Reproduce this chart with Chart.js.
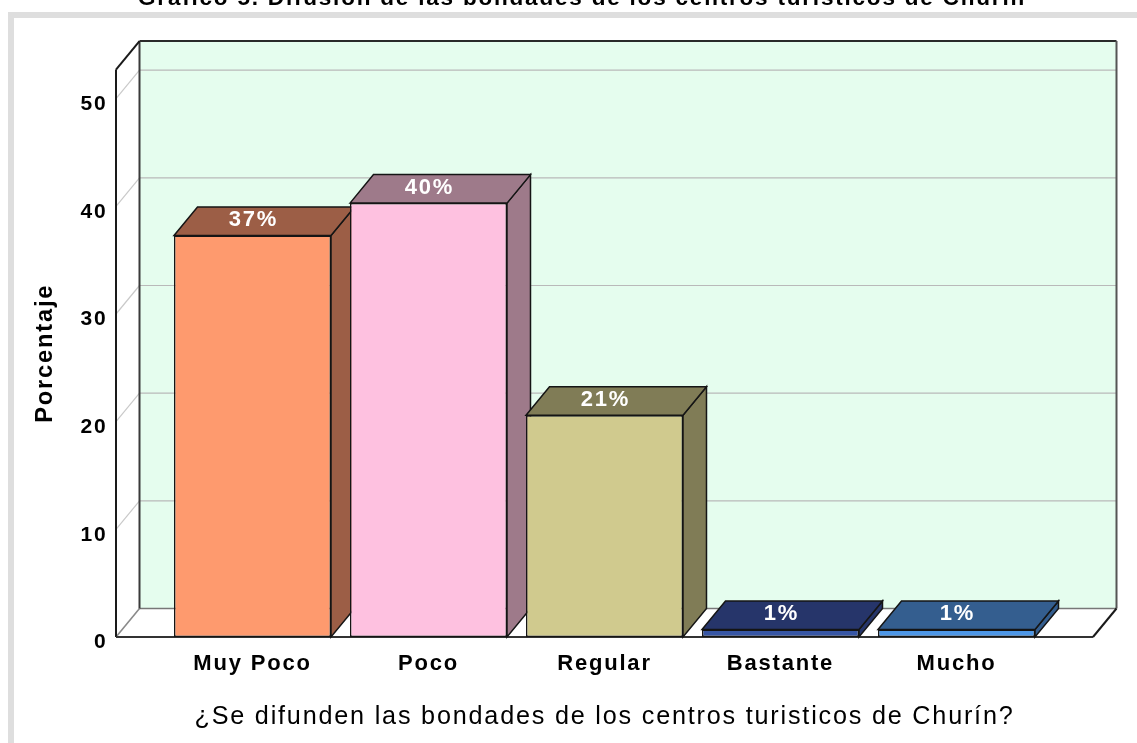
<!DOCTYPE html>
<html><head><meta charset="utf-8">
<script src="https://cdn.jsdelivr.net/npm/chart.js@4/dist/chart.umd.min.js"></script>
<style>html,body{margin:0;padding:0;background:#fff;overflow:hidden;}#wrap{width:1137px;height:743px;}</style>
</head><body><div id="wrap"><canvas id="c" width="1137" height="743"></canvas></div>
<script>
// ---- data ----
const categories = ['Muy Poco', 'Poco', 'Regular', 'Bastante', 'Mucho'];
const percentages = [37.3, 40.3, 20.6, 0.7, 0.7];
const yTickValues = [0, 10, 20, 30, 40, 50];
const frontColors = ['#fe9a6e', '#fec1e0', '#d0ca8e', '#3756a5', '#4d97e7'];
const shadeColors = ['#9c5e46', '#9e7a8a', '#807c56', '#26356a', '#345e8f'];
const chartTitle = 'Gráfico 5. Difusión de las bondades de los centros turísticos de Churín';
const xTitle = '¿Se difunden las bondades de los centros turisticos de Churín?';
const yTitle = 'Porcentaje';

const FONT = "'Liberation Sans', Arial, sans-serif";
const SPACING = '1.8px';
const DX = 23.5, DY = -28.5;      // 3D depth offset
const EXT = 48.5;                 // box extends beyond category area

function line(ctx, x1, y1, x2, y2, color, w) {
  ctx.beginPath(); ctx.moveTo(x1, y1); ctx.lineTo(x2, y2);
  ctx.strokeStyle = color; ctx.lineWidth = w; ctx.stroke();
}
function poly(ctx, pts, fill, stroke, w) {
  ctx.beginPath(); ctx.moveTo(pts[0][0], pts[0][1]);
  for (let i = 1; i < pts.length; i++) ctx.lineTo(pts[i][0], pts[i][1]);
  ctx.closePath();
  if (fill) { ctx.fillStyle = fill; ctx.fill(); }
  if (stroke) { ctx.strokeStyle = stroke; ctx.lineWidth = w; ctx.lineJoin = 'miter'; ctx.stroke(); }
}

const box3d = {
  id: 'box3d',
  beforeDraw(chart) {
    const ctx = chart.ctx, a = chart.chartArea, ys = chart.scales.y;
    ctx.save();
    ctx.letterSpacing = '0px';
    // outer frame
    ctx.fillStyle = '#dedede';
    ctx.fillRect(8, 12, 1137, 6);
    ctx.fillRect(8, 12, 6, 743);
    // chart title (cut at top)
    ctx.letterSpacing = SPACING;
    ctx.fillStyle = '#000';
    ctx.font = 'bold 22.5px ' + FONT;
    ctx.textAlign = 'center'; ctx.textBaseline = 'alphabetic';
    ctx.fillText(chartTitle, 582, 5);
    ctx.letterSpacing = '0px';

    const L = a.left - EXT, R = a.right + EXT, T = a.top, B = a.bottom;
    // back wall
    poly(ctx, [[L + DX, T + DY], [R + DX, T + DY], [R + DX, B + DY], [L + DX, B + DY]], '#e5fdee');
    // side wall and floor
    poly(ctx, [[L, T], [L + DX, T + DY], [L + DX, B + DY], [L, B]], '#ffffff');
    poly(ctx, [[L, B], [L + DX, B + DY], [R + DX, B + DY], [R, B]], '#ffffff');
    // gridlines
    yTickValues.forEach(v => {
      const y = ys.getPixelForValue(v);
      if (v === 0) return;
      line(ctx, L + DX, y + DY, R + DX, y + DY, '#b9b9b9', 1.2);
      line(ctx, L, y, L + DX, y + DY, '#c9c9c9', 1.2);
    });
    // floor back edge / left diagonal
    line(ctx, L + DX, B + DY, R + DX, B + DY, '#777', 1.6);
    line(ctx, L, B, L + DX, B + DY, '#8a8a8a', 1.6);
    // outlines
    line(ctx, L + DX, T + DY, R + DX, T + DY, '#2a2a2a', 2);
    line(ctx, R + DX, T + DY, R + DX, B + DY, '#555', 2);
    line(ctx, L + DX, T + DY, L + DX, B + DY, '#3a3a3a', 2);
    line(ctx, L, T, L + DX, T + DY, '#1a1a1a', 2);
    line(ctx, L, T, L, B, '#1a1a1a', 2);
    line(ctx, L, B, R, B, '#333', 2);
    line(ctx, R, B, R + DX, B + DY, '#1a1a1a', 2);
    ctx.restore();
    ctx.letterSpacing = SPACING;
  },
  beforeDatasetsDraw(chart) {
    const ctx = chart.ctx;
    const meta = chart.getDatasetMeta(0);
    ctx.save();
    meta.data.forEach((bar, i) => {
      const p = bar.getProps(['x', 'y', 'base', 'width'], true);
      const l = p.x - p.width / 2, r = p.x + p.width / 2;
      poly(ctx, [[r, p.y], [r + DX, p.y + DY], [r + DX, p.base + DY], [r, p.base]], shadeColors[i], '#151515', 1.5);
      poly(ctx, [[l, p.y], [l + DX, p.y + DY], [r + DX, p.y + DY], [r, p.y]], shadeColors[i], '#151515', 1.5);
    });
    ctx.restore();
  },
  afterDatasetsDraw(chart) {
    const ctx = chart.ctx;
    const meta = chart.getDatasetMeta(0);
    ctx.save();
    ctx.fillStyle = '#ffffff';
    ctx.font = 'bold 22px ' + FONT;
    ctx.textAlign = 'center'; ctx.textBaseline = 'middle';
    meta.data.forEach((bar, i) => {
      const p = bar.getProps(['x', 'y'], true);
      ctx.fillText(Math.round(percentages[i]) + '%', p.x + 1, p.y + DY / 2 - 1);
    });
    ctx.restore();
  },
  afterDraw(chart) { chart.ctx.letterSpacing = '0px'; }
};

new Chart(document.getElementById('c'), {
  type: 'bar',
  data: {
    labels: categories,
    datasets: [{
      data: percentages,
      backgroundColor: frontColors,
      borderColor: '#151515',
      borderWidth: 1.5,
      borderSkipped: false,
      barPercentage: 0.892,
      categoryPercentage: 1
    }]
  },
  options: {
    responsive: false,
    animation: false,
    devicePixelRatio: 1,
    layout: { padding: { left: 20, right: 92.5, top: 68, bottom: 8 } },
    plugins: { legend: { display: false }, tooltip: { enabled: false }, title: { display: false } },
    scales: {
      x: {
        type: 'category',
        offset: true,
        grid: { display: false, drawTicks: false },
        border: { display: false },
        ticks: { color: '#000', padding: 13.5, font: { family: FONT, weight: 'bold', size: 22 } },
        title: { display: true, text: xTitle, color: '#000', padding: { top: 0, bottom: 2.5 },
                 font: { family: FONT, size: 25.2 } },
        afterFit(s) { s.height = 98; }
      },
      y: {
        type: 'linear',
        min: 0, max: 52.7,
        afterBuildTicks(s) { s.ticks = yTickValues.map(v => ({ value: v })); },
        grid: { display: false, drawTicks: false },
        border: { display: false },
        ticks: { color: '#000', padding: 57, labelOffset: 5.5, font: { family: FONT, weight: 'bold', size: 21 } },
        title: { display: true, text: yTitle, color: '#000', padding: { top: 11.3, bottom: 0 },
                 font: { family: FONT, weight: 'bold', size: 23.7 } },
        afterFit(s) { s.width = 144.5; }
      }
    }
  },
  plugins: [box3d]
});
</script>
</body></html>
